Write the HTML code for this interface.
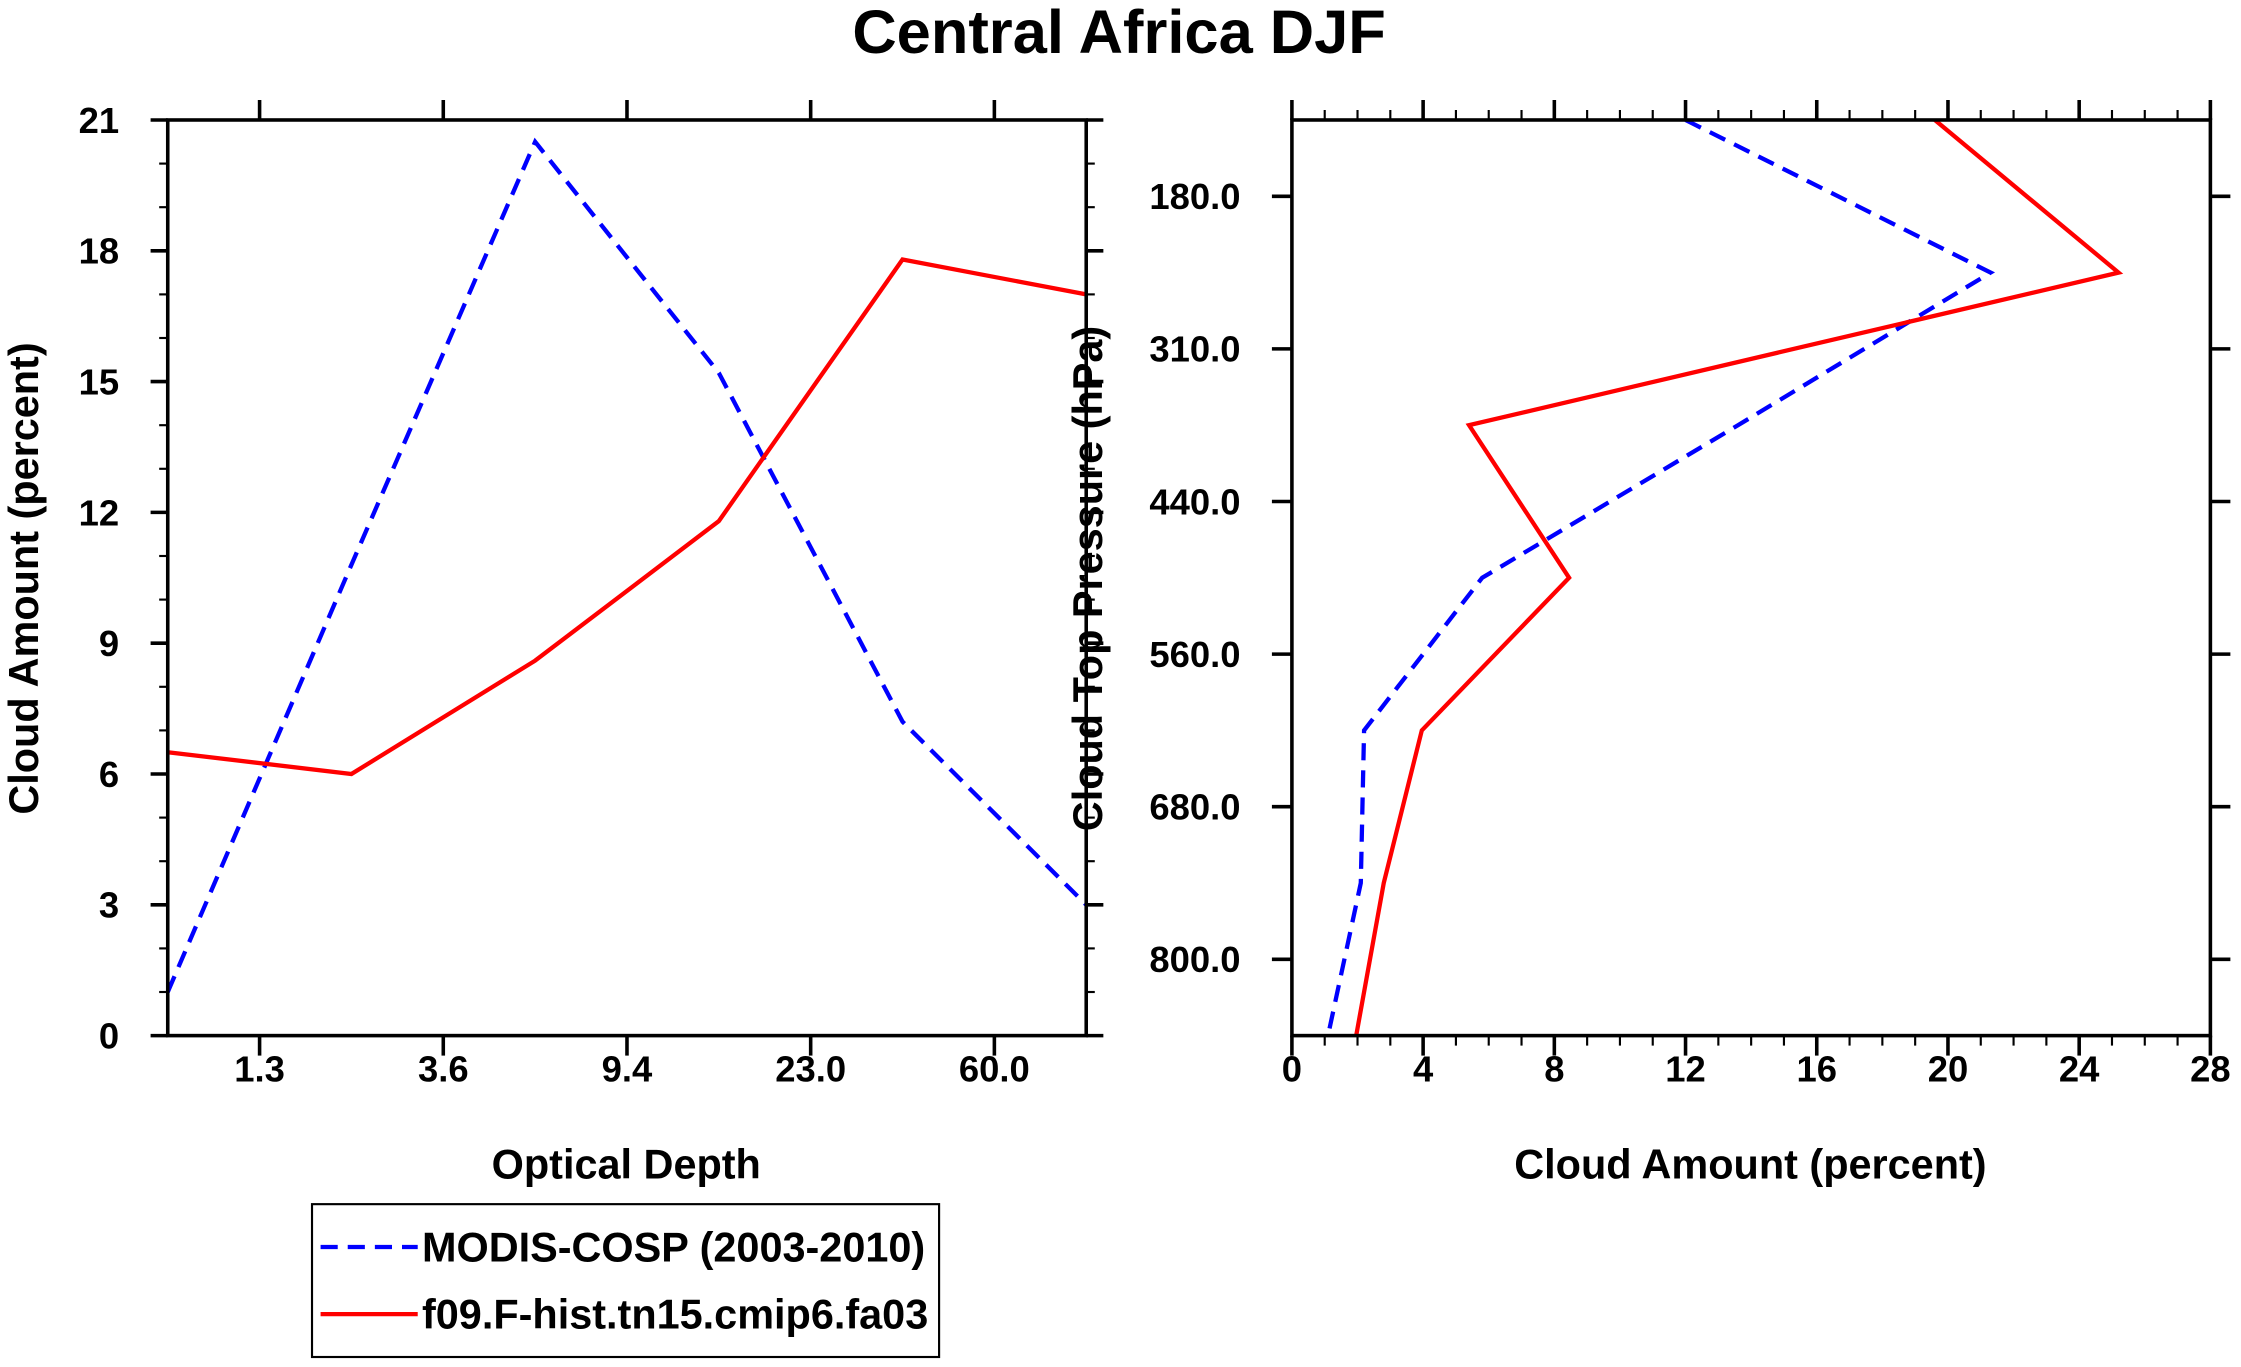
<!DOCTYPE html>
<html><head><meta charset="utf-8"><style>
html,body{margin:0;padding:0;background:#fff;}
svg{display:block;font-family:"Liberation Sans",sans-serif;font-weight:bold;}
</style></head><body>
<svg id="chart" width="2241" height="1367" viewBox="0 0 1568 957" xmlns="http://www.w3.org/2000/svg">
<text x="783" y="37" text-anchor="middle" font-size="43">Central Africa DJF</text>
<g id="left"></g><g id="right"></g>
<g>
<rect x="218" y="843" width="439" height="107" fill="none" stroke="#000" stroke-width="1.5"/>
<line x1="224" y1="873" x2="292" y2="873" stroke="#00f" stroke-width="3" stroke-dasharray="12,7"/>
<text x="295" y="883" font-size="29">MODIS-COSP (2003-2010)</text>
<line x1="224" y1="920" x2="292" y2="920" stroke="#f00" stroke-width="3"/>
<text x="295" y="930" font-size="29">f09.F-hist.tn15.cmip6.fa03</text>
</g>
</svg>
<script>
// Left panel data
const tauLabels = ["1.3","3.6","9.4","23.0","60.0"];
const leftYTicks = [0,3,6,9,12,15,18,21];
const modisTau = [1.0, 10.8, 20.5, 15.2, 7.2, 3.0];
const modelTau = [6.5, 6.0, 8.6, 11.8, 17.8, 17.0];
// Right panel data
const pLabels = ["180.0","310.0","440.0","560.0","680.0","800.0"];
const rightXTicks = [0,4,8,12,16,20,24,28];
const modisP = [12.0, 21.3, 13.6, 5.8, 2.2, 2.1, 1.1];
const modelP = [19.6, 25.2, 5.4, 8.45, 3.96, 2.8, 1.96];

const NS="http://www.w3.org/2000/svg";
function mk(parent,tag,attrs,text){const e=document.createElementNS(NS,tag);for(const k in attrs)e.setAttribute(k,attrs[k]);if(text!==undefined)e.textContent=text;parent.appendChild(e);return e;}
const FS=25.5;
// Left
const L=document.getElementById('left');
const lx0=117,lx1=760,ly0=84,ly1=725;
const lxs=i=>lx0+i*(lx1-lx0)/(modisTau.length-1);
const lys=v=>ly1-v/21*(ly1-ly0);
let e;
for(let v=0;v<=21;v++){const y=lys(v);const maj=v%3===0;
 e=mk(L,'line',{x1:lx0,x2:lx0-(maj?12:6),y1:y,y2:y,stroke:'#000','stroke-width':maj?2.5:1.5});
 
 e=mk(L,'line',{x1:lx1,x2:lx1+(maj?12:6),y1:y,y2:y,stroke:'#000','stroke-width':maj?2.5:1.5});
 }
leftYTicks.forEach(v=>{e=mk(L,'text',{x:83,y:lys(v)+9,'text-anchor':'end','font-size':FS},String(v));
 });
tauLabels.forEach((t,i)=>{const x=(lxs(i)+lxs(i+1))/2;
 e=mk(L,'line',{x1:x,x2:x,y1:ly0,y2:ly0-14,stroke:'#000','stroke-width':2.5});
 
 e=mk(L,'line',{x1:x,x2:x,y1:ly1,y2:ly1+14,stroke:'#000','stroke-width':2.5});
 
 e=mk(L,'text',{x:x,y:757,'text-anchor':'middle','font-size':FS},t);
 });
function series(parent,vals,xf,yf,color,dash,name){
 const pts=vals.map((v,i)=>xf(v,i)+','+yf(v,i)).join(' ');
 const a={points:pts,fill:'none',stroke:color,'stroke-width':3,'stroke-linejoin':'miter'};
 if(dash)a['stroke-dasharray']='12,7';
 const p=mk(parent,'polyline',a);
 }
series(L,modisTau,(v,i)=>lxs(i),v=>lys(v),'#00f',true,'left-modis-line');
series(L,modelTau,(v,i)=>lxs(i),v=>lys(v),'#f00',false,'left-model-line');
e=mk(L,'rect',{x:lx0,y:ly0,width:lx1-lx0,height:ly1-ly0,fill:'none',stroke:'#000','stroke-width':2.5});

e=mk(L,'text',{x:438,y:825,'text-anchor':'middle','font-size':29},'Optical Depth');

e=mk(L,'text',{x:0,y:0,'text-anchor':'middle','font-size':29,transform:'translate(26,405) rotate(-90)'},'Cloud Amount (percent)');


// Right
const R=document.getElementById('right');
const rx0=904,rx1=1547,ry0=84,ry1=725;
const rxs=v=>rx0+v/28*(rx1-rx0);
const rys=i=>ry0+i*(ry1-ry0)/(modisP.length-1);
for(let v=0;v<=28;v++){const x=rxs(v);const maj=v%4===0;
 e=mk(R,'line',{x1:x,x2:x,y1:ry0,y2:ry0-(maj?14:7),stroke:'#000','stroke-width':maj?2.5:1.5});
 
 e=mk(R,'line',{x1:x,x2:x,y1:ry1,y2:ry1+(maj?14:7),stroke:'#000','stroke-width':maj?2.5:1.5});
 }
rightXTicks.forEach(v=>{e=mk(R,'text',{x:rxs(v),y:757,'text-anchor':'middle','font-size':FS},String(v));
 });
pLabels.forEach((t,i)=>{const y=(rys(i)+rys(i+1))/2;
 e=mk(R,'line',{x1:rx0,x2:rx0-14,y1:y,y2:y,stroke:'#000','stroke-width':2.5});
 
 e=mk(R,'line',{x1:rx1,x2:rx1+14,y1:y,y2:y,stroke:'#000','stroke-width':2.5});
 
 e=mk(R,'text',{x:868,y:y+9,'text-anchor':'end','font-size':FS},t);
 });
series(R,modisP,v=>rxs(v),(v,i)=>rys(i),'#00f',true,'right-modis-line');
series(R,modelP,v=>rxs(v),(v,i)=>rys(i),'#f00',false,'right-model-line');
e=mk(R,'rect',{x:rx0,y:ry0,width:rx1-rx0,height:ry1-ry0,fill:'none',stroke:'#000','stroke-width':2.5});

e=mk(R,'text',{x:1225,y:825,'text-anchor':'middle','font-size':29},'Cloud Amount (percent)');

e=mk(R,'text',{x:0,y:0,'text-anchor':'middle','font-size':29,transform:'translate(771,405) rotate(-90)'},'Cloud Top Pressure (hPa)');

</script>
</body></html>
